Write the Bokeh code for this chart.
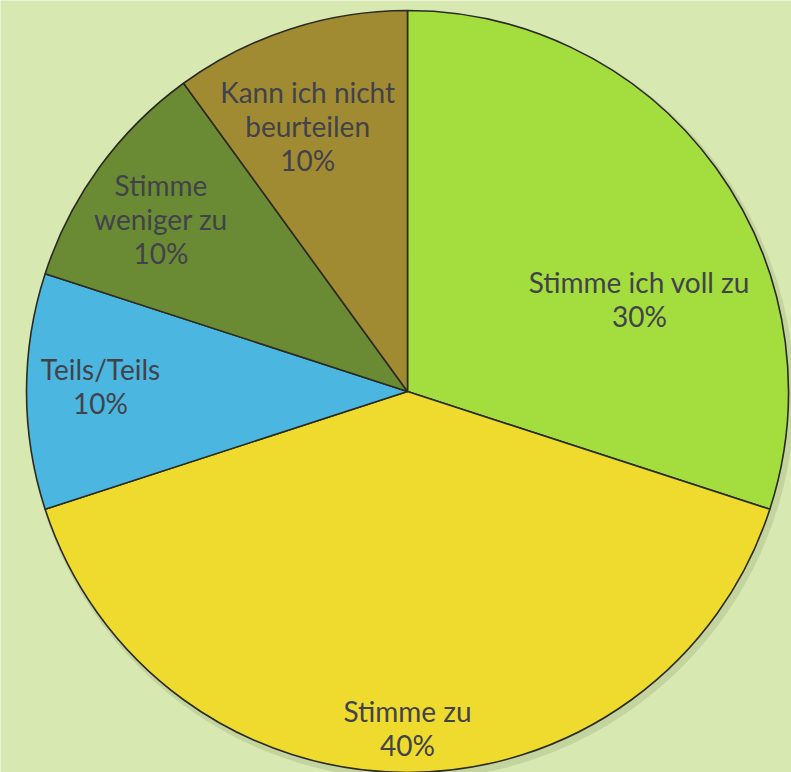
import math
from bokeh.plotting import figure
from bokeh.models import Range1d, ColumnDataSource
from bokeh.embed import file_html
from bokeh.resources import INLINE
from bokeh.core.properties import value

# ---- data ----
categories = ["Stimme ich voll zu", "Stimme zu", "Teils/Teils",
              "Stimme weniger zu", "Kann ich nicht beurteilen"]
shares = [30, 40, 10, 10, 10]
label_lines = ["Stimme ich voll zu", "Stimme zu", "Teils/Teils",
               "Stimme\nweniger zu", "Kann ich nicht\nbeurteilen"]
colors = ["#a3dd3e", "#efdb2e", "#4bb7e0", "#6a8b34", "#a18b32"]

# ---- layout ----
W, H = 791, 772
cx, cy = 407, H - 391
R = 381
bg = "#d7e8b0"
# label placement (radius fraction, angle shift in degrees) per slice
label_rf = [0.655, 0.882, 0.806, 0.79, 0.745]
label_shift = [-14.3, 0.0, -1.0, 1.0, 2.6]

p = figure(width=W, height=H, output_backend="svg", toolbar_location=None,
           x_range=Range1d(0, W), y_range=Range1d(0, H), min_border=0)
p.axis.visible = False
p.grid.visible = False
p.outline_line_color = None
p.background_fill_color = bg
p.border_fill_color = bg

total = float(sum(shares))
starts, ends, mids = [], [], []
a = math.pi / 2
for s in shares:
    span = 2 * math.pi * s / total
    starts.append(a - span)
    ends.append(a)
    mids.append(a - span / 2)
    a -= span

# soft shadow
p.circle(x=[cx + 3], y=[cy - 4], radius=R + 3, fill_color="#9fae80",
         fill_alpha=0.35, line_color=None)

src = ColumnDataSource(dict(x=[cx] * len(shares), y=[cy] * len(shares),
                            start=starts, end=ends, color=colors))
p.wedge(x="x", y="y", radius=R, start_angle="start", end_angle="end",
        fill_color="color", line_color="#2b2b22", line_width=1.6, source=src)

lx, ly, lt = [], [], []
for i, c in enumerate(categories):
    ang = mids[i] + math.radians(label_shift[i])
    r = R * label_rf[i]
    lx.append(cx + r * math.cos(ang))
    ly.append(cy + r * math.sin(ang))
    lt.append(f"{label_lines[i]}\n{shares[i]}%")

p.text(x=lx, y=ly, text=lt, text_align="center", text_baseline="middle",
       text_font=value("Lato"), text_font_size="28px", text_color="#42424a",
       text_line_height=1.0)

open("out.html", "w").write(file_html(p, INLINE))
